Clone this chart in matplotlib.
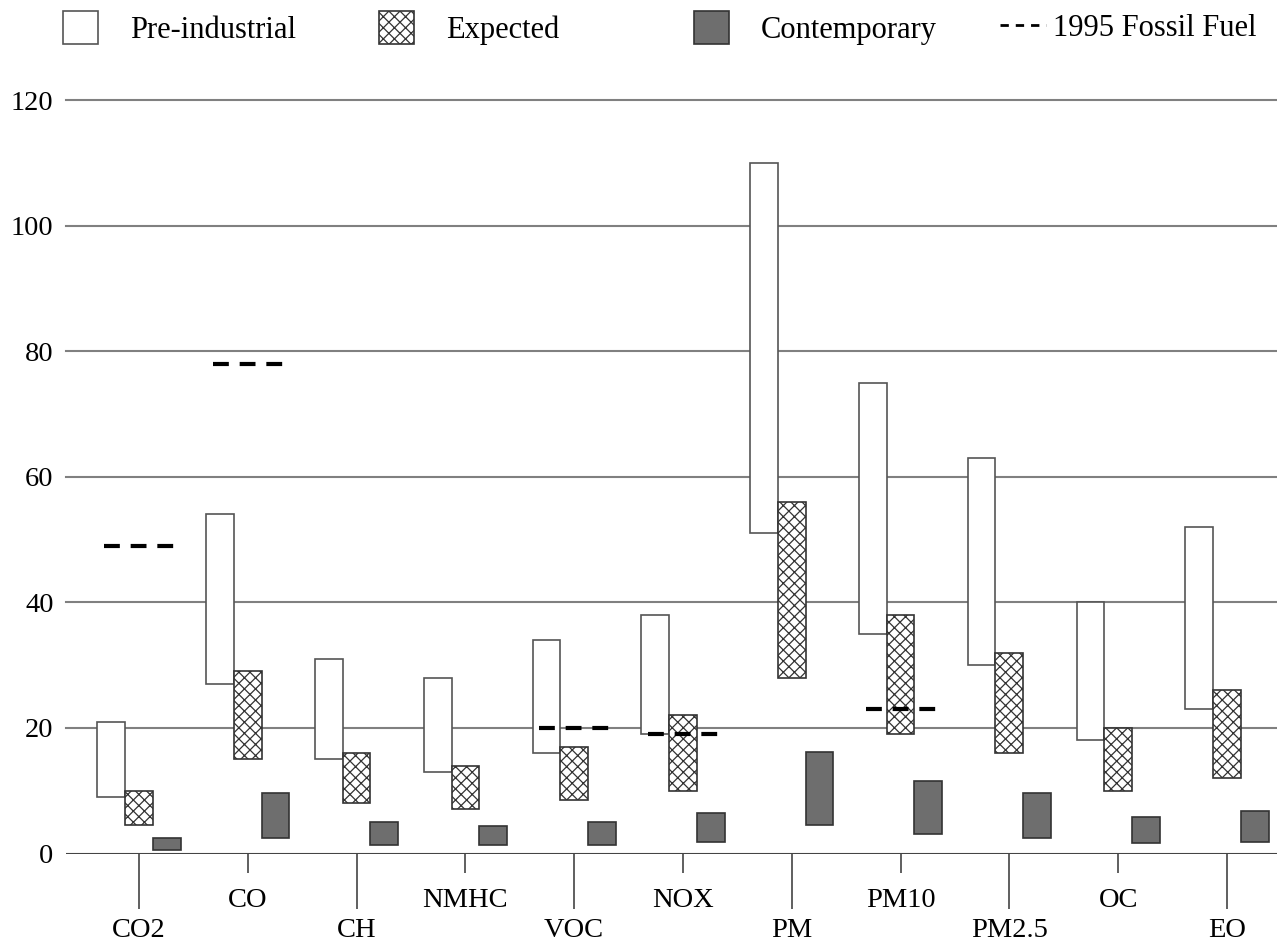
import numpy as np
import matplotlib
matplotlib.use('Agg')
import matplotlib.pyplot as plt
from matplotlib.patches import Patch
from matplotlib.lines import Line2D

plt.rcParams['font.family'] = ['Liberation Serif', 'DejaVu Serif']
plt.rcParams['hatch.linewidth'] = 0.9
plt.rcParams['hatch.color'] = '#3a3a3a'

# emission ranges per species (low / high ends of each floating bar)
cats = ['CO2', 'CO', 'CH', 'NMHC', 'VOC', 'NOX', 'PM', 'PM10', 'PM2.5', 'OC', 'EO']
pre_low = [9, 27, 15, 13, 16, 19, 51, 35, 30, 18, 23]
pre_high = [21, 54, 31, 28, 34, 38, 110, 75, 63, 40, 52]
exp_low = [4.6, 15, 8.1, 7.1, 8.5, 10, 28, 19, 16, 10, 12]
exp_high = [10, 29, 16, 14, 17, 22, 56, 38, 32, 20, 26]
con_low = [0.6, 2.4, 1.3, 1.3, 1.3, 1.9, 4.5, 3.1, 2.5, 1.6, 1.9]
con_high = [2.5, 9.6, 5.0, 4.4, 5.0, 6.5, 16.2, 11.6, 9.7, 5.8, 6.8]
fossil_1995 = [49, 78, np.nan, np.nan, 20, 19, np.nan, 23, np.nan, np.nan, np.nan]

x = np.arange(len(cats))
w = 0.255
fs = 20.5
hatch = 'xxx'

fig = plt.figure(figsize=(12.77, 9.49), dpi=100)
ax = fig.add_axes([66 / 1277, 1 - 853.5 / 949, (1277 - 66) / 1277, (853.5 - 100) / 949])

edge = '#555555'
ax.bar(x - w, np.subtract(pre_high, pre_low), bottom=pre_low, width=w,
       color='white', edgecolor=edge, linewidth=1.2, zorder=3)
ax.bar(x, np.subtract(exp_high, exp_low), bottom=exp_low, width=w,
       color='white', edgecolor='#333333', hatch=hatch, linewidth=1.2, zorder=3)
ax.bar(x + w, np.subtract(con_high, con_low), bottom=con_low, width=w,
       color='#6e6e6e', edgecolor='#333333', linewidth=1.2, zorder=3)

ax.hlines(fossil_1995, x - 0.32, x + 0.34, colors='black', linewidth=3,
          linestyles=(0, (3.8, 2.6)), zorder=4)

ax.set_xlim(-0.671, 10.46)
ax.set_ylim(0, 120)
ax.set_yticks(np.arange(0, 121, 20))
for v in np.arange(20, 121, 20):
    ax.axhline(v, color='#808080', linewidth=1.5, zorder=1, clip_on=False)
ax.axhline(0, color='#444444', linewidth=1.5, zorder=2)

for s in ax.spines.values():
    s.set_visible(False)

ax.tick_params(axis='y', length=0, pad=9, labelsize=fs)

# staggered category labels: even ones low with long ticks, odd ones high with short ticks
ax.set_xticks(x[::2])
ax.set_xticklabels(cats[::2])
ax.set_xticks(x[1::2], minor=True)
ax.set_xticklabels(cats[1::2], minor=True)
ax.tick_params(axis='x', which='major', length=39.6, pad=6.5, width=1.2,
               color='#444444', labelsize=fs)
ax.tick_params(axis='x', which='minor', length=13.7, pad=11.1, width=1.2,
               color='#444444', labelsize=fs)

# legend entries spread across the top
lfs = 22
entries = [
    (Patch(facecolor='white', edgecolor=edge, linewidth=1.2), 'Pre-industrial', 63),
    (Patch(facecolor='white', edgecolor='#333333', hatch=hatch, linewidth=1.2), 'Expected', 379),
    (Patch(facecolor='#6e6e6e', edgecolor='#333333', linewidth=1.2), 'Contemporary', 694),
]
for h, lab, px in entries:
    fig.legend(handles=[h], labels=[lab], loc='center left', frameon=False,
               bbox_to_anchor=(px / 1277, 1 - 28 / 949), borderpad=0, borderaxespad=0,
               handlelength=1.15, handleheight=1.25, handletextpad=1.05, fontsize=lfs)
fig.legend(handles=[Line2D([], [], color='black', linewidth=2, linestyle=(0, (3, 2.5)))],
           labels=['1995 Fossil Fuel'], loc='center left', frameon=False,
           bbox_to_anchor=(1000 / 1277, 1 - 28 / 949), borderpad=0, borderaxespad=0,
           handlelength=1.5, handletextpad=0.25, fontsize=lfs)

fig.savefig('out.png', dpi=100)
